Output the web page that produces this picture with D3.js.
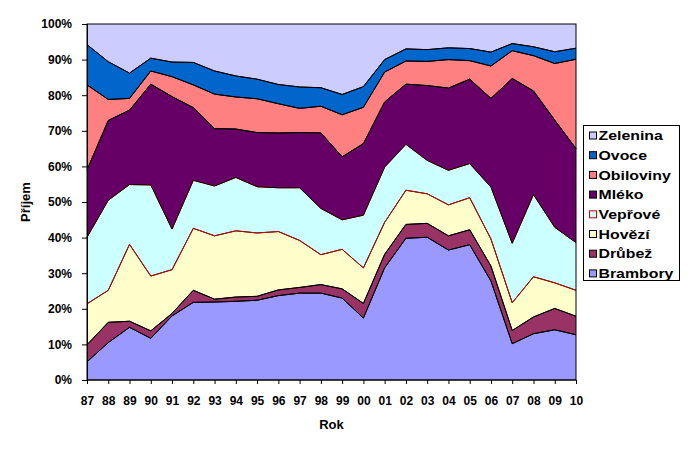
<!DOCTYPE html>
<html>
<head>
<meta charset="utf-8">
<script src="https://cdn.jsdelivr.net/npm/d3@7"></script>
<style>
  html, body { margin: 0; padding: 0; background: #fff; }
  svg { display: block; }
  text { font-family: Arial, "Liberation Sans", sans-serif; font-weight: bold; }
</style>
</head>
<body>
<svg id="chart" width="688" height="450"></svg>
<script>
// ---- data (shares in %, per year) ----
const years = ["87","88","89","90","91","92","93","94","95","96","97","98","99","00","01","02","03","04","05","06","07","08","09","10"];
const brambory  = [5.1,10.5,14.8,11.7,18.0,21.8,21.9,22.1,22.4,23.7,24.4,24.4,23.0,17.4,31.5,39.8,40.1,36.5,38.0,27.8,10.2,13.0,14.1,12.7];
const drubez    = [4.8,5.7,1.7,2.1,0.7,3.4,0.8,1.2,1.1,1.6,1.6,2.4,2.6,4.1,3.8,3.9,3.9,4.0,4.2,4.2,3.7,4.7,6.0,5.2];
const hovezi    = [11.5,9.0,21.6,15.4,12.3,17.4,17.8,18.6,17.8,16.4,13.2,8.4,11.1,10.0,9.0,9.6,8.3,8.7,9.0,7.6,7.8,11.3,7.2,7.3];
const veprove   = [18.7,25.3,16.8,25.6,11.4,13.5,14.0,15.0,13.0,12.3,14.8,13.0,8.3,14.8,15.5,12.9,9.4,9.7,9.6,14.6,16.7,23.1,15.6,13.4];
const mleko     = [18.9,22.4,20.9,28.3,37.2,20.4,16.1,13.6,15.2,15.4,15.5,21.2,17.7,20.1,18.3,16.9,21.0,23.1,23.7,24.9,46.3,29.1,30.1,26.4];
const obiloviny = [23.9,5.9,3.3,3.7,5.6,6.4,9.7,9.0,9.5,8.2,6.8,7.5,11.8,10.2,8.4,6.5,6.8,8.0,5.2,9.1,7.8,9.9,15.9,25.1];
const ovoce     = [11.3,10.6,7.1,3.6,4.1,6.3,6.5,5.9,5.5,5.4,6.0,5.2,5.7,5.8,3.5,3.4,3.3,3.3,3.4,3.9,2.0,2.5,3.3,3.1];
const zelenina  = [5.8,10.6,13.8,9.6,10.7,10.8,13.2,14.6,15.5,17.0,17.7,17.9,19.8,17.6,10.0,7.0,7.2,6.7,6.9,7.9,5.5,6.4,7.8,6.8];

const seriesNames = ["Brambory","Drůbež","Hovězí","Vepřové","Mléko","Obiloviny","Ovoce","Zelenina"];
const seriesValues = [brambory, drubez, hovezi, veprove, mleko, obiloviny, ovoce, zelenina];
const seriesColors = ["#9999FF","#993366","#FFFFCC","#CCFFFF","#660066","#FF8080","#0066CC","#CCCCFF"];
const seriesBorders = ["#000000","#000000","#000000","#CC0000","#000000","#000000","#000000","#000000"];
const yTicks = [0,0.1,0.2,0.3,0.4,0.5,0.6,0.7,0.8,0.9,1.0];

(function () {
// ---- table ----
const table = years.map((yr, i) => {
  const row = { year: yr };
  seriesNames.forEach((n, k) => row[n] = seriesValues[k][i]);
  return row;
});

const svg = d3.select("#chart");
const pLeft = 87, pRight = 576, pTop = 24, pBottom = 380;

const x = d3.scalePoint().domain(years).range([pLeft, pRight]);
const y = d3.scaleLinear().domain([0, 1]).range([pBottom, pTop]);

const stack = d3.stack().keys(seriesNames).offset(d3.stackOffsetExpand);
const stacked = stack(table);

const area = d3.area()
  .x(d => x(d.data.year))
  .y0(d => y(d[0]))
  .y1(d => y(d[1]));

const gAreas = svg.append("g");
stacked.forEach((s, k) => {
  gAreas.append("path")
    .datum(s)
    .attr("d", area)
    .attr("fill", seriesColors[k])
    .attr("stroke", "none");
});

// boundaries (each series outline; later series overwrite shared edges)
const lineTop = d3.line().x(d => x(d.data.year)).y(d => y(d[1]));
const lineBot = d3.line().x(d => x(d.data.year)).y(d => y(d[0]));
stacked.forEach((s, k) => {
  if (k > 0) {
    gAreas.append("path").datum(s).attr("d", lineBot)
      .attr("fill", "none").attr("stroke", seriesBorders[k]).attr("stroke-width", 1);
  }
  if (k < stacked.length - 1) {
    gAreas.append("path").datum(s).attr("d", lineTop)
      .attr("fill", "none").attr("stroke", seriesBorders[k]).attr("stroke-width", 1);
  }
});

// plot border
svg.append("rect")
  .attr("x", pLeft).attr("y", pTop)
  .attr("width", pRight - pLeft).attr("height", pBottom - pTop)
  .attr("fill", "none").attr("stroke", "#000").attr("stroke-width", 1);

// axes
const yAxis = d3.axisLeft(y).tickValues(yTicks).tickFormat(d3.format(".0%")).tickSize(5).tickPadding(10);
const gy = svg.append("g").attr("transform", `translate(${pLeft},0)`).call(yAxis);
gy.selectAll("text").attr("font-size", 12).attr("fill", "#000");
gy.selectAll("line, path").attr("stroke", "#000");

const xAxis = d3.axisBottom(x).tickSize(4).tickPadding(12);
const gx = svg.append("g").attr("transform", `translate(0,${pBottom})`).call(xAxis);
gx.selectAll("text").attr("font-size", 12).attr("fill", "#000");
gx.selectAll("line, path").attr("stroke", "#000");
gx.select(".domain").attr("d", `M${pLeft},0H${pRight}`);

// titles
svg.append("text")
  .attr("x", (pLeft + pRight) / 2).attr("y", 428.5)
  .attr("text-anchor", "middle").attr("font-size", 13)
  .text("Rok");
svg.append("text")
  .attr("transform", `translate(29.5,${(pTop + pBottom) / 2}) rotate(-90)`)
  .attr("text-anchor", "middle").attr("font-size", 13)
  .text("Příjem");

// legend (top to bottom: reverse of stack order)
const lg = svg.append("g");
const lx = 583.5, ly = 125.5, lw = 96, lh = 155;
lg.append("rect").attr("x", lx).attr("y", ly).attr("width", lw).attr("height", lh)
  .attr("fill", "#fff").attr("stroke", "#000").attr("stroke-width", 1);
const order = d3.range(seriesNames.length).reverse();
order.forEach((k, i) => {
  const cy = 135.5 + i * 19.7;
  lg.append("rect").attr("x", lx + 6).attr("y", cy - 3.5).attr("width", 7).attr("height", 7)
    .attr("fill", seriesColors[k]).attr("stroke", seriesBorders[k]).attr("stroke-width", 1);
  lg.append("text")
    .attr("transform", `translate(${lx + 15},${cy + 4.7}) scale(1.22,1)`)
    .attr("font-size", 13).attr("fill", "#000")
    .text(seriesNames[k]);
});
})();
</script>
</body>
</html>
